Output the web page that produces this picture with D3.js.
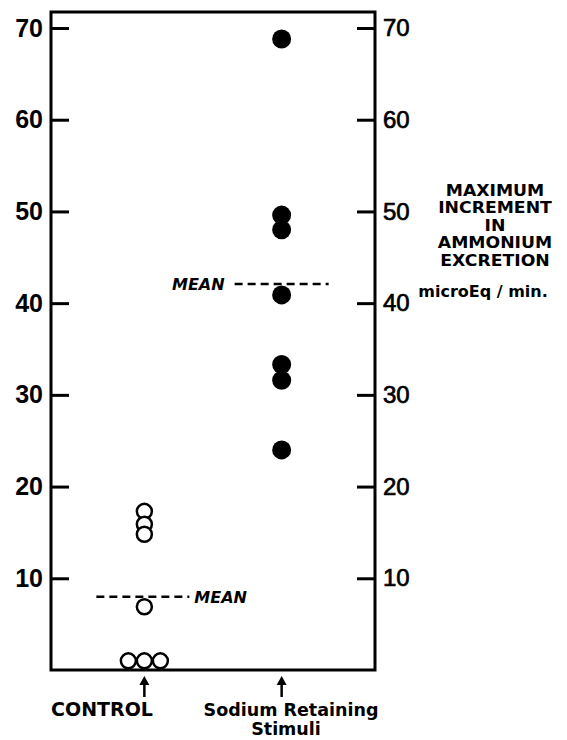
<!DOCTYPE html>
<html>
<head>
<meta charset="utf-8">
<script src="https://cdn.jsdelivr.net/npm/d3@7"></script>
<style>
  body { margin: 0; background: #fff; }
  svg { display: block; font-family: "DejaVu Sans", sans-serif; }
</style>
</head>
<body>
<div id="chart"></div>
<script>
// groups on the x axis
const groups = ["CONTROL", "Sodium Retaining Stimuli"];

// control: open circles, jitter = sideways shift for stacked points at the same value
const controlValues = [17.3, 15.9, 14.8, 6.9, 1.0, 1.0, 1.0];
const controlJitter = [0, 0, 0, 0, -1, 0, 1];
// sodium retaining stimuli: filled circles
const sodiumValues = [68.8, 49.6, 48.0, 40.9, 33.3, 31.6, 24.0];

const means = [8.0, 42.1];
const yTicks = [10, 20, 30, 40, 50, 60, 70];
const titleLines = ["MAXIMUM", "INCREMENT", "IN", "AMMONIUM", "EXCRETION"];
const unitLabel = "microEq / min.";

const width = 567, height = 740;
const plotLeft = 51, plotRight = 375, plotTop = 12;

const svg = d3.select("#chart").append("svg")
  .attr("width", width)
  .attr("height", height);

const y = d3.scaleLinear().domain([0, 70]).range([670, 28]);
const x = d3.scalePoint().domain(groups).range([plotLeft, plotRight]).padding(0.68);
const jitter = d3.scaleLinear().domain([-1, 1]).range([-16, 16]);

// frame
svg.append("rect")
  .attr("x", plotLeft).attr("y", plotTop)
  .attr("width", plotRight - plotLeft).attr("height", y(0) - plotTop)
  .attr("fill", "none").attr("stroke", "#000").attr("stroke-width", 3);

// left axis, inward ticks
const leftAxis = svg.append("g")
  .attr("transform", `translate(${plotLeft},0)`)
  .call(d3.axisLeft(y).tickValues(yTicks).tickSizeInner(-18).tickSizeOuter(0).tickPadding(8));
leftAxis.select(".domain").remove();
leftAxis.selectAll("line").attr("stroke-width", 3);
leftAxis.selectAll("text")
  .attr("font-size", 25).attr("font-weight", "bold").attr("fill", "#000");

// right axis, inward ticks
const rightAxis = svg.append("g")
  .attr("transform", `translate(${plotRight},0)`)
  .call(d3.axisRight(y).tickValues(yTicks).tickSizeInner(-18).tickSizeOuter(0).tickPadding(8));
rightAxis.select(".domain").remove();
rightAxis.selectAll("line").attr("stroke-width", 3);
rightAxis.selectAll("text")
  .attr("font-size", 24).attr("fill", "#000")
  .attr("stroke", "#000").attr("stroke-width", 0.7);

// mean lines
const meanSpan = [[-48, 45], [-47, 47]];
groups.forEach((g, i) => {
  svg.append("line")
    .attr("x1", x(g) + meanSpan[i][0]).attr("x2", x(g) + meanSpan[i][1])
    .attr("y1", y(means[i])).attr("y2", y(means[i]))
    .attr("stroke", "#000").attr("stroke-width", 2.5)
    .attr("stroke-dasharray", "8,5");
});
svg.append("text")
  .attr("x", x(groups[0]) + 50).attr("y", y(means[0]) + 6)
  .attr("font-size", 16).attr("font-style", "italic").attr("font-weight", "bold")
  .text("MEAN");
svg.append("text")
  .attr("x", x(groups[1]) - 57).attr("y", y(means[1]) + 6)
  .attr("text-anchor", "end")
  .attr("font-size", 16).attr("font-style", "italic").attr("font-weight", "bold")
  .text("MEAN");

// points
svg.selectAll(".ctrl").data(controlValues).join("circle")
  .attr("class", "ctrl")
  .attr("cx", (d, i) => x(groups[0]) + jitter(controlJitter[i]))
  .attr("cy", d => y(d))
  .attr("r", 7.5)
  .attr("fill", "#fff").attr("stroke", "#000").attr("stroke-width", 2.5);

svg.selectAll(".sod").data(sodiumValues).join("circle")
  .attr("class", "sod")
  .attr("cx", x(groups[1]))
  .attr("cy", d => y(d))
  .attr("r", 9.5)
  .attr("fill", "#000");

// arrows under the groups
groups.forEach(g => {
  svg.append("line")
    .attr("x1", x(g)).attr("x2", x(g))
    .attr("y1", 681).attr("y2", 697)
    .attr("stroke", "#000").attr("stroke-width", 2.5);
  svg.append("path")
    .attr("d", `M${x(g) - 5},${685} L${x(g)},${676} L${x(g) + 5},${685} Z`)
    .attr("fill", "#000");
});

// group labels
svg.append("text")
  .attr("x", 102).attr("y", 716)
  .attr("text-anchor", "middle").attr("font-size", 19).attr("font-weight", "bold")
  .text(groups[0]);
const sodiumLabel = svg.append("text")
  .attr("text-anchor", "middle").attr("font-size", 17.5).attr("font-weight", "bold");
sodiumLabel.append("tspan").attr("x", 291).attr("y", 716).text("Sodium Retaining");
sodiumLabel.append("tspan").attr("x", 286).attr("y", 735).text("Stimuli");

// right-hand title, stretched a little sideways like the heavy lettering
const titleG = svg.append("g")
  .attr("transform", "translate(495,0) scale(1.15,1)");
titleG.selectAll("text").data(titleLines).join("text")
  .attr("x", 0)
  .attr("y", (d, i) => 196 + i * 17.5)
  .attr("text-anchor", "middle")
  .attr("font-size", 15).attr("font-weight", "bold")
  .text(d => d);
svg.append("text")
  .attr("x", 483).attr("y", 297)
  .attr("text-anchor", "middle")
  .attr("font-size", 16).attr("font-weight", "bold")
  .text(unitLabel);
</script>
</body>
</html>
